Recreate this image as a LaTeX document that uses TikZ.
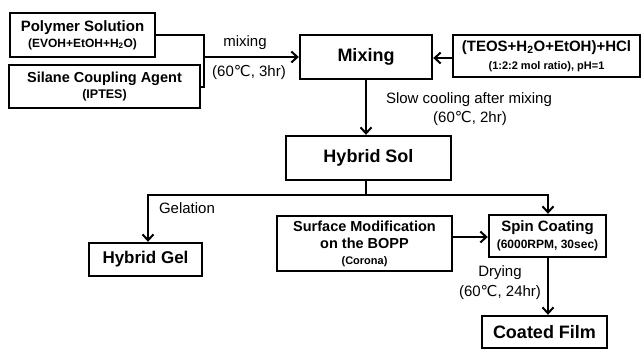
\documentclass[tikz,border=0pt]{standalone}
\usepackage{fontspec}
\setmainfont{Liberation Sans}
\newfontfamily\dejavu{DejaVu Sans}
\usetikzlibrary{arrows.meta}
\newcommand{\degc}{{\dejavu\char"2103}}
\newcommand{\fsz}[2]{\fontsize{#1}{#2}\selectfont}
\begin{document}
\begin{tikzpicture}[x=1pt,y=-1pt,
  box/.style={draw,line width=2.4pt,inner sep=0pt,align=center},
  conn/.style={line width=2pt},
  arr/.style={conn,-{Straight Barb[length=6pt,width=11pt,line width=2pt]}},
  lbl/.style={font=\fsz{15}{16},inner sep=0pt,align=center}]
\useasboundingbox (0,0) rectangle (643,349);
\node[box,minimum width=145pt,minimum height=44pt,font=\fsz{15}{16}\bfseries] (poly) at (82.5,35)
  {Polymer Solution\\{\fsz{12}{12}(EVOH+EtOH+H\textsubscript{2}O)}};
\node[box,minimum width=191pt,minimum height=43pt,font=\fsz{14.5}{16}\bfseries] (silane) at (104.5,86.5)
  {Silane Coupling Agent\\{\fsz{12.5}{12}(IPTES)}};
\node[box,minimum width=132pt,minimum height=44pt,font=\fsz{18}{20}\bfseries] (mix) at (366,57)
  {Mixing};
\node[box,minimum width=187pt,minimum height=42pt,font=\fsz{15}{18}\bfseries] (teos) at (546.5,56)
  {(TEOS+H\textsubscript{2}O+EtOH)+HCl\\{\fsz{11}{12}(1:2:2 mol ratio), pH=1}};
\node[box,minimum width=165pt,minimum height=44pt,font=\fsz{18}{20}\bfseries] (sol) at (368.5,158)
  {Hybrid Sol};
\node[box,minimum width=113pt,minimum height=33pt,font=\fsz{17}{18}\bfseries] (gel) at (145.5,259.5)
  {Hybrid Gel};
\node[box,minimum width=175pt,minimum height=55pt,font=\fsz{14.5}{17}\bfseries] (surf) at (364.5,243.5)
  {Surface Modification\\on the BOPP\\[-1pt]{\fsz{11}{12}(Corona)}};
\node[box,minimum width=117pt,minimum height=42pt,font=\fsz{15}{17}\bfseries] (spin) at (547.5,236)
  {Spin Coating\\{\fsz{12}{12}(6000RPM, 30sec)}};
\node[box,minimum width=125pt,minimum height=32pt,font=\fsz{18}{20}\bfseries] (coat) at (544.5,332)
  {Coated Film};
% connectors
\coordinate (j) at (204,57);
\draw[conn] (poly.east) -- (204,35) -- (204,86.5) -- (silane.east);
\draw[arr] (j) -- (mix.west |- j);
\draw[arr] (teos.west |- 0,58) -- (mix.east |- 0,58);
\draw[arr] (mix.south) -- (mix.south |- sol.north);
\coordinate (split) at (366,195);
\coordinate (sl) at (148,195);
\coordinate (sr) at (548,195);
\draw[conn] (mix.south |- sol.south) -- (split);
\draw[arr] (split) -- (sl) -- (sl |- gel.north);
\draw[arr] (split) -- (sr) -- (sr |- spin.north);
\draw[arr] (surf.east |- 0,237) -- (spin.west |- 0,237);
\draw[arr] (spin.south -| sr) -- (coat.north -| sr);
% labels
\node[lbl] (l1) at (245,43) {mixing};
\node[lbl] (l2) at (249,72) {(60\degc, 3hr)};
\node[lbl] (l3) at (469,100) {Slow cooling after mixing};
\node[lbl] (l4) at (470,118) {(60\degc, 2hr)};
\node[lbl] (l5) at (187,208) {Gelation};
\node[lbl] (l6) at (500,273) {Drying};
\node[lbl] (l7) at (500,292) {(60\degc, 24hr)};
\end{tikzpicture}
\end{document}
